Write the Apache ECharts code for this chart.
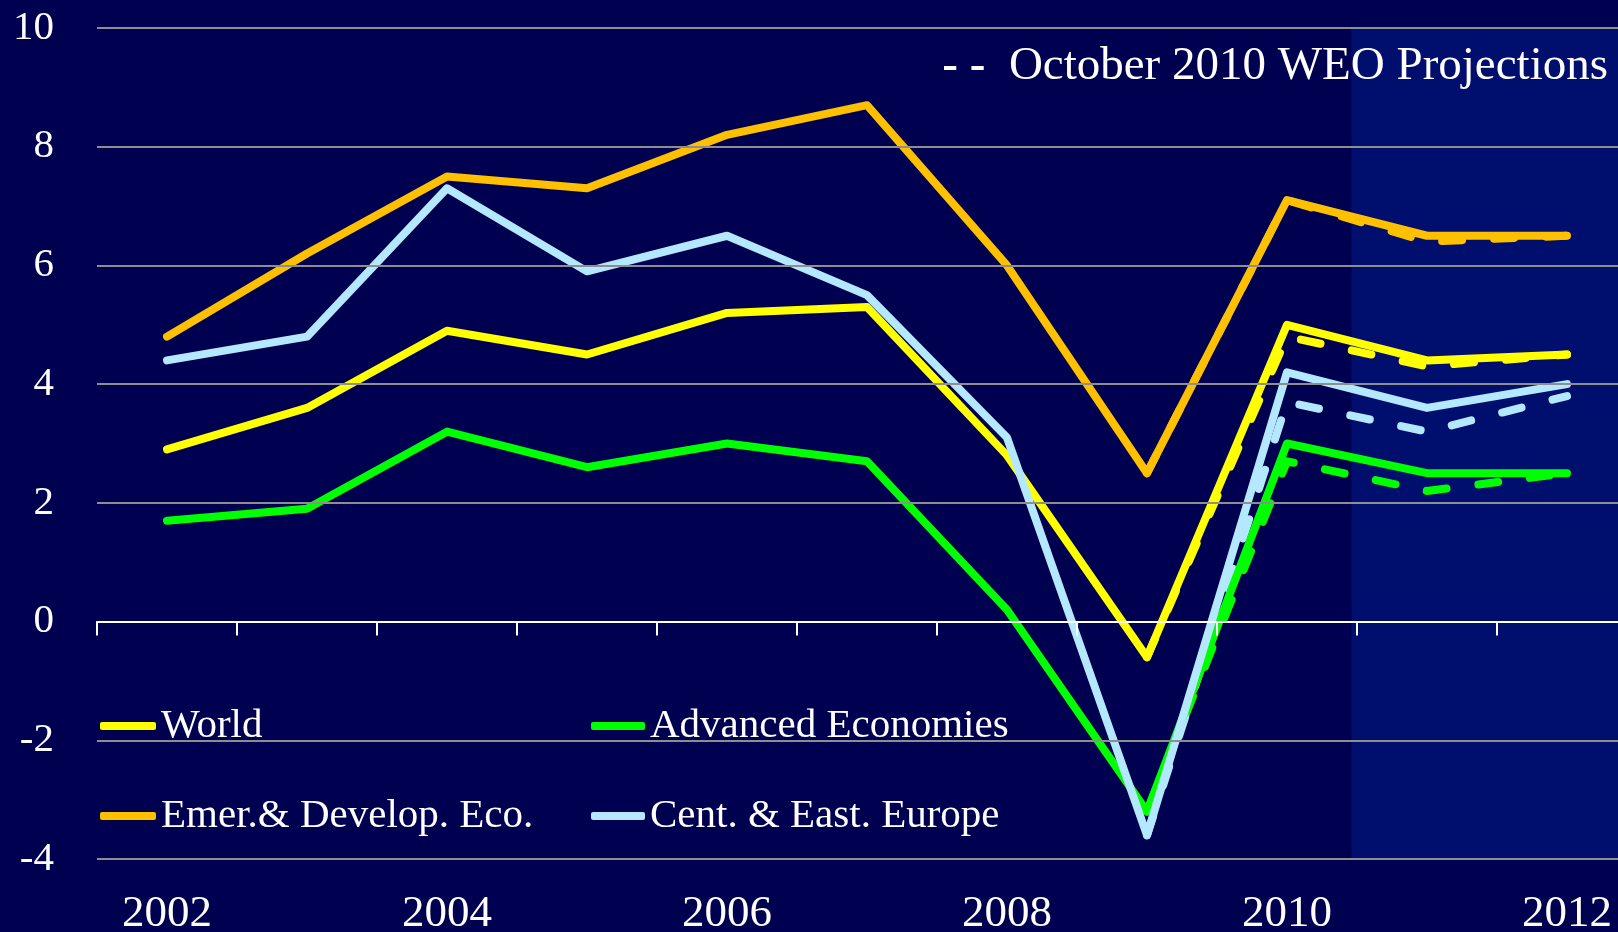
<!DOCTYPE html>
<html>
<head>
<meta charset="utf-8">
<script src="https://cdn.jsdelivr.net/npm/echarts@6/dist/echarts.min.js"></script>
<style>
  html, body { margin: 0; padding: 0; background: #000050; }
  #main { width: 1618px; height: 932px; }
</style>
</head>
<body>
<div id="main"></div>
<script>
var years = ['2002', '2003', '2004', '2005', '2006', '2007', '2008', '2009', '2010', '2011', '2012'];
var world = [2.9, 3.6, 4.9, 4.5, 5.2, 5.3, 2.8, -0.6, 5.0, 4.4, 4.5];
var advanced = [1.7, 1.9, 3.2, 2.6, 3.0, 2.7, 0.2, -3.2, 3.0, 2.5, 2.5];
var emerging = [4.8, 6.2, 7.5, 7.3, 8.2, 8.7, 6.0, 2.5, 7.1, 6.5, 6.5];
var ceEurope = [4.4, 4.8, 7.3, 5.9, 6.5, 5.5, 3.1, -3.6, 4.2, 3.6, 4.0];

// October 2010 WEO projections
var worldProj = [null, null, null, null, null, null, null, -0.6, 4.8, 4.3, 4.5];
var advancedProj = [null, null, null, null, null, null, null, -3.2, 2.7, 2.2, 2.5];
var emergingProj = [null, null, null, null, null, null, null, 2.5, 7.1, 6.4, 6.5];
var ceEuropeProj = [null, null, null, null, null, null, null, -3.6, 3.7, 3.2, 3.8];

var yTicks = { min: -4, max: 10, interval: 2 };

var myChart = echarts.init(document.getElementById('main'));

var font = 'Liberation Serif';

function solid(name, data, color)
{
    return {
        name: name,
        type: 'line',
        data: data,
        symbol: 'none',
        color: color,
        lineStyle: { width: 8, color: color, cap: 'round', join: 'round' },
        z: 3
    };
}

function dashed(name, data, color)
{
    return {
        name: name,
        type: 'line',
        data: data,
        symbol: 'none',
        color: color,
        lineStyle: { width: 8, color: color, type: [20, 32], cap: 'round', join: 'round' },
        z: 2
    };
}

var legendText = { color: '#fff', fontFamily: font, fontSize: 41, lineHeight: 44 };

var option = {
    backgroundColor: '#000050',
    animation: false,
    title: {
        text: '{d|- -}  October 2010 WEO Projections',
        right: 5,
        top: 38,
        textStyle: {
            color: '#fff',
            fontFamily: font,
            fontSize: 47,
            fontWeight: 'normal',
            rich: {
                d: { color: '#fff', fontFamily: font, fontSize: 47, fontWeight: 'bold' }
            }
        }
    },
    legend: [
        {
            data: ['World', 'Emer.& Develop. Eco.'],
            orient: 'vertical',
            left: 100,
            top: 704,
            icon: 'roundRect',
            itemWidth: 56,
            itemHeight: 8,
            itemGap: 46,
            padding: 0,
            selectedMode: false,
            textStyle: legendText
        },
        {
            data: ['Advanced Economies', 'Cent. & East. Europe'],
            orient: 'vertical',
            left: 591,
            top: 704,
            icon: 'roundRect',
            itemWidth: 54,
            itemHeight: 8,
            itemGap: 46,
            padding: 0,
            selectedMode: false,
            textStyle: legendText
        }
    ],
    grid: {
        left: 97,
        top: 28,
        width: 1540,
        height: 831,
        containLabel: false,
        outerBoundsMode: 'none'
    },
    xAxis: [
        {
            type: 'category',
            data: years,
            boundaryGap: true,
            z: 5,
            axisLine: { onZero: true, lineStyle: { color: '#fff', width: 2 } },
            axisTick: { show: true, interval: 0, length: 14, lineStyle: { color: '#fff', width: 2 } },
            axisLabel: { show: false },
            splitLine: { show: false }
        },
        {
            type: 'category',
            data: years,
            boundaryGap: true,
            position: 'bottom',
            axisLine: { show: false, onZero: false },
            axisTick: { show: false },
            axisLabel: {
                interval: 1,
                color: '#fff',
                fontFamily: font,
                fontSize: 45,
                margin: 33
            },
            splitLine: { show: false }
        },
        {
            type: 'value',
            min: 2001.5,
            max: 2012.5,
            show: false,
            splitLine: { show: false }
        }
    ],
    yAxis: {
        type: 'value',
        min: yTicks.min,
        max: yTicks.max,
        interval: yTicks.interval,
        z: 5,
        axisLine: { show: false },
        axisTick: { show: false },
        axisLabel: {
            color: '#fff',
            fontFamily: font,
            fontSize: 41,
            margin: 43
        },
        splitLine: { lineStyle: { color: '#8e8e8e', width: 2 } }
    },
    series: [
        {
            name: 'projection period',
            type: 'line',
            xAxisIndex: 2,
            data: [],
            symbol: 'none',
            silent: true,
            z: 0,
            markArea: {
                silent: true,
                z: -1,
                itemStyle: { color: '#000e6e' },
                data: [[{ xAxis: 2010.46 }, { xAxis: 2012.5 }]]
            }
        },
        dashed('World (Oct. 2010 WEO)', worldProj, '#ffff00'),
        dashed('Advanced Economies (Oct. 2010 WEO)', advancedProj, '#00ff00'),
        dashed('Emer.& Develop. Eco. (Oct. 2010 WEO)', emergingProj, '#ffc000'),
        dashed('Cent. & East. Europe (Oct. 2010 WEO)', ceEuropeProj, '#b4e8ff'),
        solid('World', world, '#ffff00'),
        solid('Advanced Economies', advanced, '#00ff00'),
        solid('Emer.& Develop. Eco.', emerging, '#ffc000'),
        solid('Cent. & East. Europe', ceEurope, '#b4e8ff')
    ]
};

myChart.setOption(option);
</script>
</body>
</html>
